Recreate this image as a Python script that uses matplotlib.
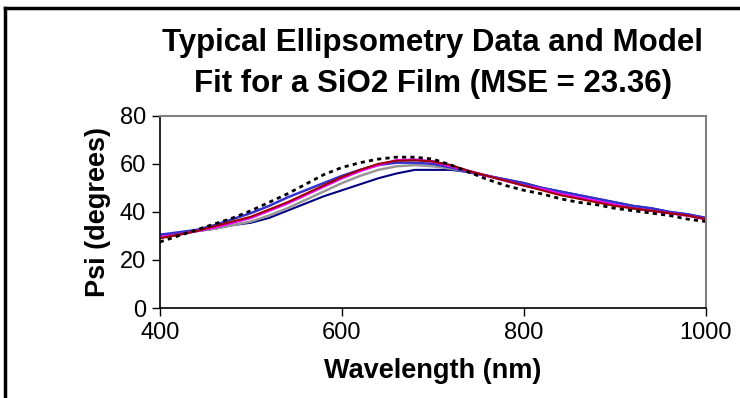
import numpy as np
import matplotlib.pyplot as plt
from matplotlib.lines import Line2D

plt.rcParams['font.family'] = ['Liberation Sans', 'DejaVu Sans']

wavelength = list(range(400, 1001, 20))

psi_model = [27.5, 30, 32.5, 35, 37.5, 40.5, 44, 47.5, 51.5, 55.5, 58.5, 60.5, 62, 62.8, 62.8,
             62, 59.5, 56.5, 53.5, 51, 49, 47.5, 45.5, 44, 43, 41.5, 40.5, 39.5, 38.5, 37, 36]
psi_navy = [30.5, 31, 32, 33, 34.5, 35.5, 37.5, 40.5, 43.5, 46.5, 49, 51.5, 54, 56, 57.5,
            57.5, 57.5, 56.5, 55, 53.5, 52, 50, 48.5, 47, 45.5, 44, 42.5, 41.5, 40, 39, 37.5]
psi_gray = [29.5, 30.5, 32, 33, 34.5, 36, 38.5, 41.5, 45, 48.5, 52, 55, 57.5, 59, 59.5,
            59, 58, 56.5, 55, 53, 51, 49.5, 47.5, 46, 44.5, 43, 41.5, 40.5, 39.5, 38.5, 37]
psi_blue = [30.5, 31.5, 32.5, 34.5, 37, 39.5, 42.5, 46, 49, 52, 55, 57.5, 59.5, 60.5, 60.5,
            60, 58.5, 56.5, 55, 53.5, 52, 50, 48.5, 47, 45.5, 44, 42.5, 41.5, 40, 39, 37.5]
psi_magenta = [29.5, 30.5, 32, 33.5, 35.5, 37.5, 40.5, 43.5, 47, 50.5, 54, 57, 59.5, 61.5, 61.8,
               61, 59, 57, 55, 53, 51, 49.5, 47.5, 46, 44.5, 43, 41.5, 40.5, 39.5, 38.5, 37]
psi_red = [29, 30.5, 32, 34, 36, 38, 41, 44, 47.5, 51, 54.5, 57.5, 60, 61.3, 61.5,
           61, 59.5, 57, 55, 53, 51, 49, 47, 45.5, 44, 42.5, 41.5, 40.5, 39.5, 38.5, 37]

title_lines = ['Typical Ellipsometry Data and Model', 'Fit for a SiO2 Film (MSE = 23.36)']

fig = plt.figure(figsize=(7.4, 3.98), dpi=100)
ax = fig.add_axes([0.216, 0.226, 0.738, 0.483])

ax.plot(wavelength, psi_navy, color='#000080', lw=1.5)
ax.plot(wavelength, psi_gray, color='#969696', lw=1.8)
ax.plot(wavelength, psi_blue, color='#3333cc', lw=1.8)
ax.plot(wavelength, psi_magenta, color='#ff00ff', lw=1.8)
ax.plot(wavelength, psi_red, color='#990000', lw=1.5)
ax.plot(wavelength, psi_model, color='black', lw=2, ls=(0, (1.5, 1.5)))

ax.set_xlim(400, 1000)
ax.set_ylim(0, 80)
ax.set_xticks([400, 600, 800, 1000])
ax.set_yticks([0, 20, 40, 60, 80])
ax.tick_params(direction='out', length=6, width=1, labelsize=17, pad=4,
               top=False, right=False)
ax.tick_params(axis='x', pad=4)
for side in ('left', 'bottom'):
    ax.spines[side].set_color('black')
    ax.spines[side].set_linewidth(1.2)
for side in ('top', 'right'):
    ax.spines[side].set_color('#808080')
    ax.spines[side].set_linewidth(1.5)

ax.set_xlabel('Wavelength (nm)', fontsize=19.5, fontweight='bold', labelpad=10)
ax.set_ylabel('Psi (degrees)', fontsize=19.5, fontweight='bold', labelpad=6)

fig.text(0.585, 1 - 51 / 398, title_lines[0], ha='center', va='baseline',
         fontsize=22.5, fontweight='bold')
fig.text(0.585, 1 - 92 / 398, title_lines[1], ha='center', va='baseline',
         fontsize=22.5, fontweight='bold')

# chart border (only left and top edges fall inside the image)
fig.add_artist(Line2D([5 / 740, 5 / 740], [0, 1 - 8 / 398], color='black', lw=2.5,
                      transform=fig.transFigure))
fig.add_artist(Line2D([5 / 740, 1], [1 - 8 / 398, 1 - 8 / 398], color='black', lw=2.5,
                      transform=fig.transFigure))

fig.savefig('out.png', dpi=100)
